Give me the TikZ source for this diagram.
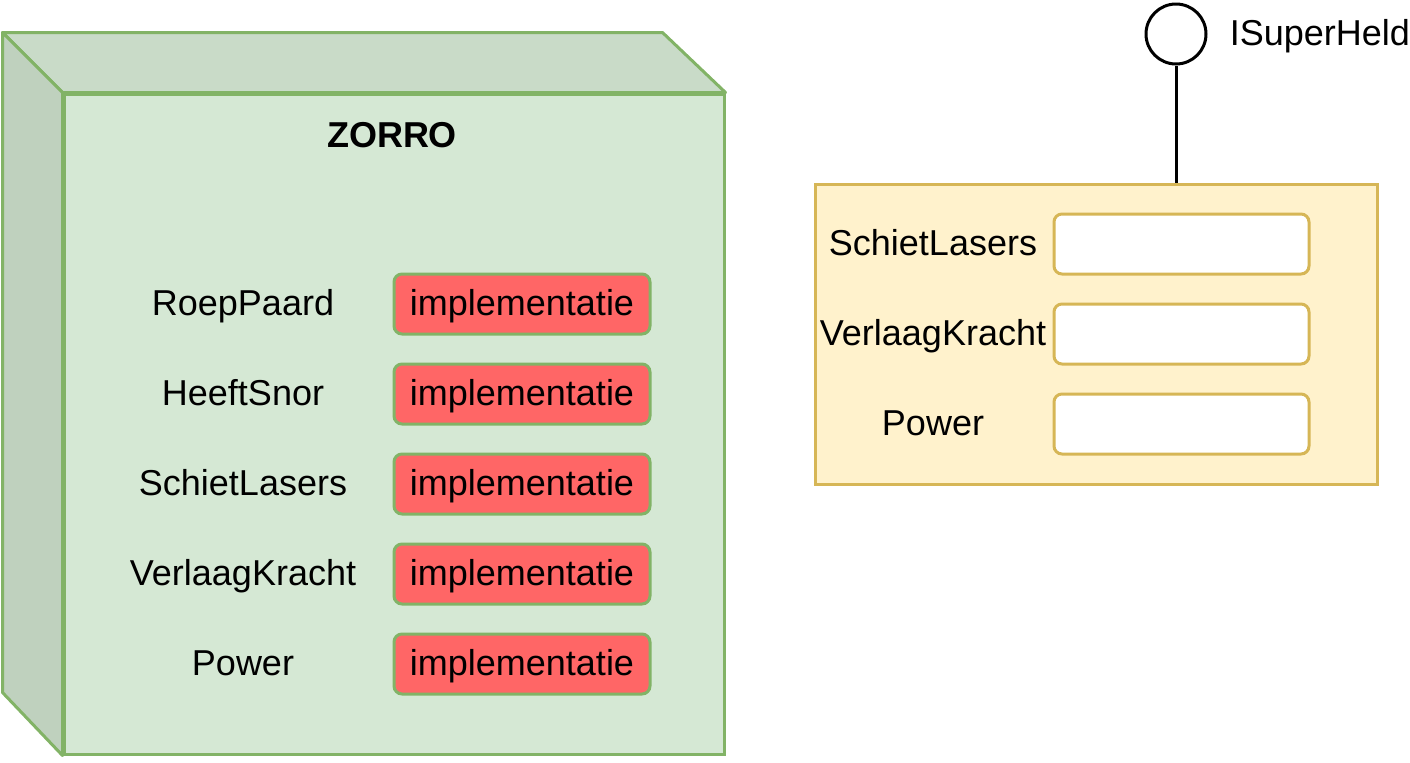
\documentclass[tikz,border=0pt]{standalone}
\usepackage{fontspec}
\setmainfont{Liberation Sans}
\usepackage{xcolor}
\usetikzlibrary{positioning}

\definecolor{nodefront}{HTML}{D5E8D4}
\definecolor{nodetop}{HTML}{C9DBC8}
\definecolor{nodeside}{HTML}{BFD1BE}
\definecolor{nodeline}{HTML}{82B366}
\definecolor{implred}{HTML}{FF6666}
\definecolor{heldfill}{HTML}{FFF2CC}
\definecolor{heldline}{HTML}{D6B656}

\tikzset{
  lbl/.style={font=\fontsize{18}{21.6}\selectfont, inner sep=0pt, text height=14.5pt, text depth=3.5pt},
  implbox/.style={lbl, draw=nodeline, fill=implred, line width=1.5pt, rounded corners=4pt,
    minimum width=128pt, minimum height=30pt},
  slotbox/.style={draw=heldline, fill=white, line width=1.5pt, rounded corners=4pt,
    minimum width=127.5pt, minimum height=30pt}
}

\begin{document}
\begin{tikzpicture}[x=0.5pt,y=-0.5pt]
\useasboundingbox (0,0) rectangle (1410,762);

% node ZORRO
\node[draw=nodeline, fill=nodefront, line width=1.5pt, minimum width=330pt, minimum height=330pt, inner sep=0pt](zorro) at (394,424){};
\filldraw[draw=nodeline, fill=nodetop, line width=1.5pt, line join=round] (zorro.north west) -- ++(-60,-60) -- ++(660,0) -- (zorro.north east) -- cycle;
\filldraw[draw=nodeline, fill=nodeside, line width=1.5pt, line join=round] (zorro.north west) -- ++(-60,-60) -- ++(0,660) -- (zorro.south west) -- cycle;
\node[lbl, font=\fontsize{18}{21.6}\selectfont\bfseries](title) at (392,136){ZORRO};

\node[lbl](m1) at (243,304){RoepPaard};
\node[lbl](m2) at (243,394){HeeftSnor};
\node[lbl](m3) at (243,484){SchietLasers};
\node[lbl](m4) at (243,574){VerlaagKracht};
\node[lbl](m5) at (243,664){Power};

\node[implbox](i1) at (522,304){implementatie};
\node[implbox, below = 13.5pt of i1](i2){implementatie};
\node[implbox, below = 13.5pt of i2](i3){implementatie};
\node[implbox, below = 13.5pt of i3](i4){implementatie};
\node[implbox, below = 13.5pt of i4](i5){implementatie};

% interface ISuperHeld
\node[draw=heldline, fill=heldfill, line width=1.5pt, minimum width=281pt, minimum height=150pt, inner sep=0pt](held) at (1096,334){};
\node[circle, draw, line width=1.5pt, minimum size=30pt, inner sep=0pt](iface) at (1176,34){};
\node[lbl, right = 11pt of iface](ilabel){ISuperHeld};
\draw[line width=1.5pt] (iface) -- (iface |- held.north);

\node[slotbox](s1) at (1181.5,244){};
\node[slotbox, below = 13.5pt of s1](s2){};
\node[slotbox, below = 13.5pt of s2](s3){};
\node[lbl](h1) at (933,244){SchietLasers};
\node[lbl](h2) at (933,334){VerlaagKracht};
\node[lbl](h3) at (933,424){Power};
\end{tikzpicture}
\end{document}
